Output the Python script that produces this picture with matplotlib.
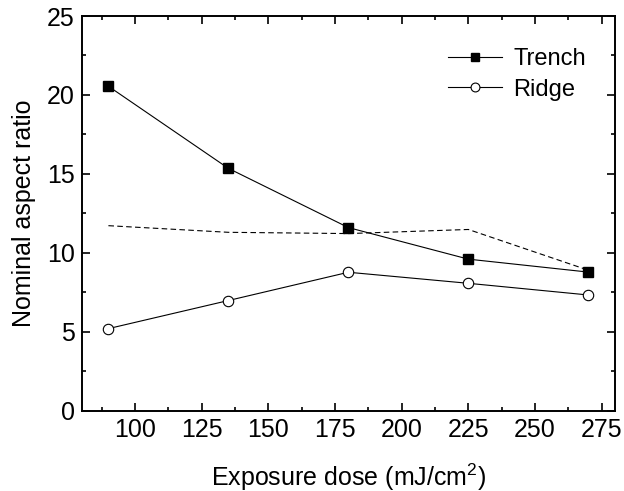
import matplotlib
matplotlib.use('Agg')
import matplotlib.pyplot as plt
from matplotlib.ticker import MultipleLocator

plt.rcParams['font.family'] = ['Liberation Sans', 'DejaVu Sans']
plt.rcParams['mathtext.fontset'] = 'custom'
plt.rcParams['mathtext.rm'] = 'Liberation Sans'

# Exposure dose (mJ/cm^2)
dose = [90, 135, 180, 225, 270]
trench = [20.55, 15.35, 11.6, 9.6, 8.78]
ridge = [5.2, 6.98, 8.77, 8.07, 7.33]
dashed = [11.72, 11.3, 11.22, 11.48, 8.9]

fig = plt.figure(figsize=(6.24, 4.91), dpi=100)
ax = fig.add_axes([0.131, 0.1635, 0.8546, 0.8039])

ax.plot(dose, dashed, color='black', linestyle=(0, (5, 3)), linewidth=0.8)
ax.plot(dose, trench, color='black', linewidth=0.8, marker='s', markersize=7,
        markerfacecolor='black', label='Trench')
ax.plot(dose, ridge, color='black', linewidth=0.8, marker='o', markersize=7.5,
        markerfacecolor='white', markeredgewidth=0.8, label='Ridge')

ax.set_xlim(80, 280)
ax.set_ylim(0, 25)
ax.xaxis.set_major_locator(MultipleLocator(25))
ax.xaxis.set_minor_locator(MultipleLocator(12.5))
ax.yaxis.set_major_locator(MultipleLocator(5))
ax.yaxis.set_minor_locator(MultipleLocator(2.5))
ax.tick_params(which='both', direction='in', top=True, right=True,
               labeltop=False, labelright=False, width=1.2)
ax.tick_params(which='major', length=6, labelsize=18, pad=5)
ax.tick_params(which='minor', length=3)
for s in ax.spines.values():
    s.set_linewidth(1.4)

ax.set_xlabel('Exposure dose (mJ/cm$^\\mathregular{2}$)', fontsize=18, labelpad=14)
ax.set_ylabel('Nominal aspect ratio', fontsize=18, labelpad=8)

ax.legend(loc='upper left', frameon=False, fontsize=17, handlelength=2.3,
          handletextpad=0.45, labelspacing=0.35, borderpad=0, borderaxespad=0,
          markerscale=0.85, bbox_to_anchor=(0.687, 0.918))

fig.savefig('out.png', dpi=100)
